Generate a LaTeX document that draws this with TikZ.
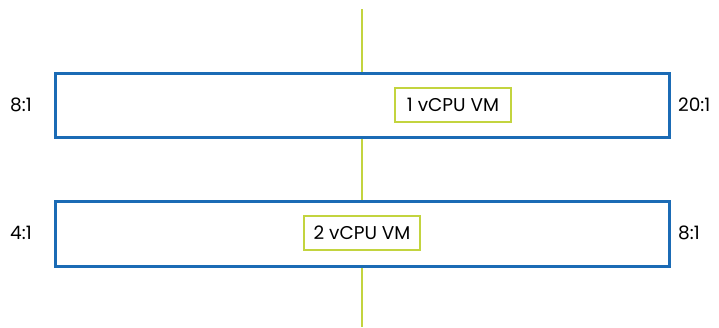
\documentclass[tikz,border=0pt]{standalone}
\usepackage{fontspec}
\setmainfont{Poppins}
\definecolor{vblue}{HTML}{1B6BB5}
\definecolor{vgreen}{HTML}{C3D43F}
\begin{document}
\begin{tikzpicture}[x=1pt,y=-1pt,
  hostbox/.style={draw=vblue,line width=3pt},
  vmbox/.style={draw=vgreen,line width=2.6pt,fill=white,minimum width=116pt,minimum height=34pt,inner sep=0pt,font=\fontsize{18.5}{22}\selectfont},
  ratio/.style={font=\fontsize{18.5}{22}\selectfont,inner sep=0pt}]
\useasboundingbox (0,0) rectangle (719,327);
\coordinate (top) at (362,9);
\coordinate (bot) at (362,327);
\draw[vgreen,line width=2.6pt] (top) -- (bot);
\node[hostbox,fill=white,minimum width=614pt,minimum height=64pt,inner sep=0pt] (h1) at (362,105) {};
\node[hostbox,fill=white,minimum width=614pt,minimum height=65pt,inner sep=0pt] (h2) at (362,233.5) {};
\node[vmbox] (vm1) at (453,105) {1 vCPU VM};
\node[vmbox] (vm2) at (362,233) {2 vCPU VM};
\node[ratio,anchor=west] (l1) at (10,105) {8:1};
\node[ratio,anchor=west] (r1) at (678,105) {20:1};
\node[ratio,anchor=west] (l2) at (10,233) {4:1};
\node[ratio,anchor=west] (r2) at (678,233) {8:1};
\end{tikzpicture}
\end{document}
